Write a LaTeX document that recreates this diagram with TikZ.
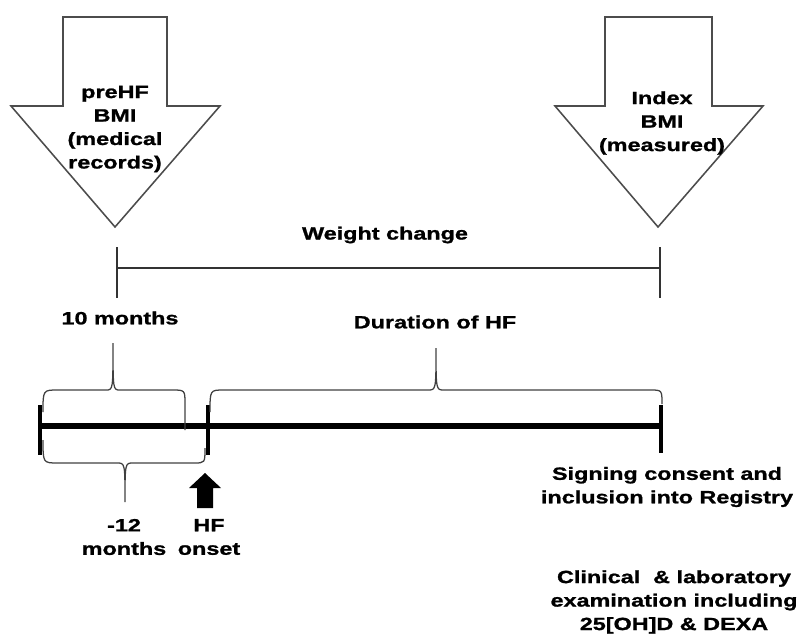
\documentclass[tikz,border=0pt]{standalone}
\usepackage{fontspec}
\setmainfont{Liberation Sans}[FakeStretch=1.32, BoldFeatures={FakeBold=1.2}]
\usetikzlibrary{positioning}

\begin{document}
\begin{tikzpicture}[x=0.025cm, y=-0.025cm,
  lbl/.style={font=\bfseries\fontsize{12.6}{16.7}\selectfont, align=center, inner sep=0pt},
  bigarrow/.style={draw=black!70, line width=1.1pt, fill=white, line join=miter},
  bracket/.style={draw=black!75, line width=0.9pt},
  timeline/.style={line width=4.3pt},
  tick/.style={line width=2.2pt}]
  \useasboundingbox (0,0) rectangle (799,636);
  % BMI arrows
  \draw[bigarrow] (63,17) -- (167,17) -- (167,106) -- (220,106) -- (115,227)
    -- (11,106) -- (63,106) -- cycle;
  \draw[bigarrow] (605,17) -- (712,17) -- (712,106) -- (763,106) -- (658,227)
    -- (555,106) -- (605,106) -- cycle;
  \node[lbl] (prehf) at (115,129) {preHF\\BMI\\(medical\\records)};
  \node[lbl] (index) at (662,123) {Index\\BMI\\(measured)};
  % weight change span
  \node[lbl] (weight) at (385,235) {Weight change};
  \draw[black!80, line width=0.9pt] (117,268) -- (660,268);
  \draw[black!80, line width=0.9pt] (117,247) -- (117,298);
  \draw[black!80, line width=0.9pt] (660,247) -- (660,298);
  % timeline
  \draw[timeline] (40,426) -- (662,426);
  \draw[tick] (40,405) -- (40,455);
  \draw[tick] (208,405) -- (208,455);
  \draw[tick] (661,405) -- (661,453);
  % braces
  \draw[bracket] (43,412) .. controls (43,390) .. (58,390) -- (106,390)
    .. controls (113,390) .. (113,343) .. controls (113,390) .. (120,390)
    -- (172,390) .. controls (185,390) .. (185,404) -- (185,430);
  \draw[bracket] (210,412) .. controls (210,390) .. (224,390) -- (428,390)
    .. controls (436,390) .. (436,348) .. controls (436,390) .. (444,390)
    -- (650,390) .. controls (662,390) .. (662,404);
  \draw[bracket] (43,440) .. controls (43,463) .. (58,463) -- (117,463)
    .. controls (125,463) .. (125,502) .. controls (125,463) .. (133,463)
    -- (194,463) .. controls (205,463) .. (205,448);
  \node[lbl] (tenm) at (120,318) {10 months};
  \node[lbl] (durhf) at (435,322) {Duration of HF};
  % HF onset
  \fill (197,508) -- (197,488) -- (189,488) -- (205,473) -- (221,488)
    -- (213,488) -- (213,508) -- cycle;
  \node[lbl] (minus12) at (124,537) {-12\\months};
  \node[lbl] (onset) at (209,537) {HF\\onset};
  % registry
  \node[lbl] (consent) at (667,487) {Signing consent and\\inclusion into Registry};
  \node[lbl] (exam) at (674,602) {Clinical\ \ \& laboratory\\examination including\\25[OH]D \& DEXA};
\end{tikzpicture}
\end{document}
